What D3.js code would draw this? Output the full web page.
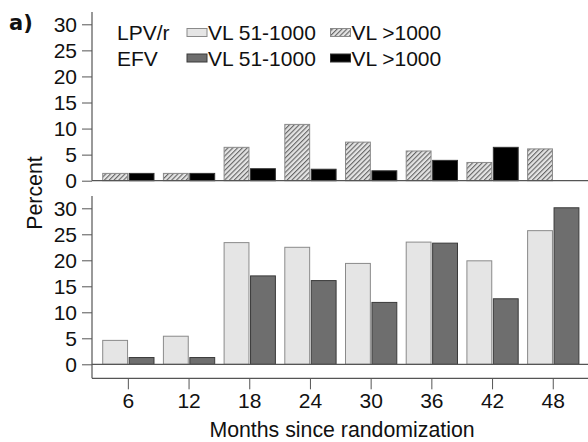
<!DOCTYPE html>
<html><head><meta charset="utf-8">
<script src="https://cdn.jsdelivr.net/npm/d3@7"></script>
<style>
html,body{margin:0;padding:0;background:#fff;}
svg{display:block;}
text{font-family:"Liberation Sans",Arial,sans-serif;fill:#111;}
</style></head>
<body>
<svg id="chart" width="588" height="442"></svg>
<script>
const months = [6, 12, 18, 24, 30, 36, 42, 48];
const monthLabels = ["6", "12", "18", "24", "30", "36", "42", "48"];
const lpvHigh = [1.4, 1.4, 6.4, 10.8, 7.4, 5.7, 3.5, 6.1];   // LPV/r VL >1000
const efvHigh = [1.4, 1.4, 2.3, 2.2, 1.9, 3.9, 6.4, 0];     // EFV VL >1000
const lpvLow = [4.6, 5.4, 23.4, 22.5, 19.4, 23.5, 19.9, 25.7]; // LPV/r VL 51-1000
const efvLow = [1.3, 1.3, 17.0, 16.1, 11.9, 23.3, 12.6, 30.1]; // EFV VL 51-1000
const yTicks = [0, 5, 10, 15, 20, 25, 30];
const legendRows = ["LPV/r", "EFV"];
const legendCols = ["VL 51-1000", "VL >1000"];

const svg = d3.select("#chart");
const defs = svg.append("defs");
defs.append("pattern").attr("id", "hatch").attr("patternUnits", "userSpaceOnUse")
  .attr("width", 3.4).attr("height", 3.4).attr("patternTransform", "rotate(45)")
  .call(p => {
    p.append("rect").attr("width", 3.4).attr("height", 3.4).attr("fill", "#e4e4e4");
    p.append("line").attr("x1", 0.6).attr("y1", 0).attr("x2", 0.6).attr("y2", 3.4)
      .attr("stroke", "#555").attr("stroke-width", 1);
  });

const axisColor = "#555";
const xLeft = 92, xRight = 588;
const x0 = d3.scaleBand().domain(months).range([98, 583.6]).paddingInner(0.155).paddingOuter(0.0775);
const x1 = d3.scaleBand().domain([0, 1]).range([0, x0.bandwidth()]).paddingInner(0.06);

const yTop = d3.scaleLinear().domain([0, 30]).range([180.7, 24.3]);
const yBot = d3.scaleLinear().domain([0, 30]).range([364.3, 208.3]);

const styles = {
  lpvLow: {fill: "#e5e5e5", stroke: "#8a8a8a"},
  efvLow: {fill: "#6e6e6e", stroke: "#3a3a3a"},
  lpvHigh: {fill: "url(#hatch)", stroke: "#8a8a8a"},
  efvHigh: {fill: "#000", stroke: "#333"}
};
const fontFam = '"Liberation Sans",Arial,sans-serif';

function drawPanel(y, series, axisTop, axisBottom) {
  const g = svg.append("g");
  const ax = g.append("g").attr("transform", `translate(${xLeft},0)`)
    .call(d3.axisLeft(y).tickValues(yTicks).tickSize(10).tickSizeOuter(0).tickPadding(5));
  ax.select(".domain").remove();
  ax.selectAll(".tick line").attr("stroke", axisColor);
  ax.selectAll(".tick text").style("font-size", "21px").attr("fill", "#111").style("font-family", fontFam);
  g.append("line").attr("x1", xLeft).attr("x2", xLeft).attr("y1", axisTop).attr("y2", axisBottom)
    .attr("stroke", axisColor).attr("stroke-width", 1.2);
  series.forEach((s, si) => {
    g.append("g").selectAll("rect").data(s.values.map((v, i) => ({m: months[i], v})).filter(d => d.v > 0))
      .join("rect")
      .attr("x", d => x0(d.m) + x1(si))
      .attr("width", x1.bandwidth())
      .attr("y", d => y(d.v))
      .attr("height", d => y(0) - y(d.v))
      .attr("fill", styles[s.key].fill)
      .attr("stroke", styles[s.key].stroke)
      .attr("stroke-width", 1);
  });
  g.append("line").attr("x1", xLeft).attr("x2", xRight).attr("y1", y(0)).attr("y2", y(0))
    .attr("stroke", axisColor).attr("stroke-width", 1.2);
}

drawPanel(yTop, [{key: "lpvHigh", values: lpvHigh}, {key: "efvHigh", values: efvHigh}], 12, yTop(0));
drawPanel(yBot, [{key: "lpvLow", values: lpvLow}, {key: "efvLow", values: efvLow}], 196, 378.3);

const xa = svg.append("g").attr("transform", "translate(0,378.3)")
  .call(d3.axisBottom(x0).tickSize(11).tickSizeOuter(0).tickPadding(4).tickFormat((d, i) => monthLabels[i]));
xa.select(".domain").remove();
xa.selectAll(".tick line").attr("stroke", axisColor);
xa.selectAll(".tick text").style("font-size", "21px").attr("fill", "#111").style("font-family", fontFam);
svg.append("line").attr("x1", xLeft).attr("x2", xRight).attr("y1", 378.3).attr("y2", 378.3)
  .attr("stroke", axisColor).attr("stroke-width", 1.2);

svg.append("text").attr("x", 342).attr("y", 436.5).attr("text-anchor", "middle")
  .style("font-size", "21.3px").text("Months since randomization");
svg.append("text").attr("transform", "translate(41.5,193) rotate(-90)").attr("text-anchor", "middle")
  .style("font-size", "21.3px").text("Percent");

svg.append("text").attr("x", 9).attr("y", 30).style("font-family", '"DejaVu Sans",sans-serif')
  .style("font-weight", "bold").style("font-size", "21px").text("a)");

const legY = [40, 65.5];
legendRows.forEach((r, i) => {
  svg.append("text").attr("x", 117).attr("y", legY[i]).style("font-size", "21px").text(r);
});
const legItems = [
  {key: "lpvLow", row: 0, col: 0}, {key: "lpvHigh", row: 0, col: 1},
  {key: "efvLow", row: 1, col: 0}, {key: "efvHigh", row: 1, col: 1}
];
const colX = [187, 330.5];
legItems.forEach(it => {
  const yy = legY[it.row];
  svg.append("rect").attr("x", colX[it.col]).attr("y", yy - 11.5).attr("width", 20).attr("height", 8)
    .attr("fill", styles[it.key].fill).attr("stroke", styles[it.key].stroke).attr("stroke-width", 1);
  svg.append("text").attr("x", colX[it.col] + 21).attr("y", yy).style("font-size", "21px").text(legendCols[it.col]);
});
</script>
</body></html>
